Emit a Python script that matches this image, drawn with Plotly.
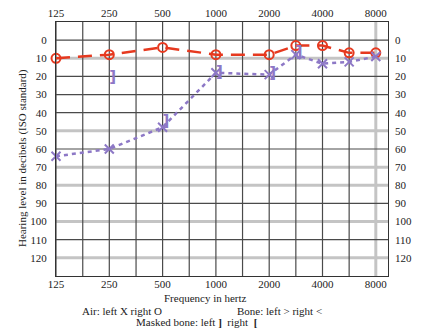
import plotly.graph_objects as go
import math

# ---- data ----
octave_freqs = [125, 250, 500, 1000, 2000, 4000, 8000]
freq_labels = ["125", "250", "500", "1000", "2000", "4000", "8000"]
grid_freqs = [125, 177, 250, 354, 500, 707, 1000, 1414, 2000, 2828, 4000, 5657]
gray_freqs = [8000]
level_ticks = [0, 10, 20, 30, 40, 50, 60, 70, 80, 90, 100, 110, 120]
black_levels = [0, 20, 30, 40, 60, 90, 110]
gray_levels = [10, 50, 70, 80, 100, 120]

test_freqs = [125, 250, 500, 1000, 2000, 2828, 4000, 5657, 8000]
right_air = [10, 8, 4, 8, 8, 3, 3, 7, 7]
left_air = [64, 60, 48, 18, 19, 8, 13, 12, 9]
bone_freqs = [250, 500, 1000, 2000, 2828]
left_masked_bone = [21, 45, 18, 19, 7]

RED = "#e6391f"
PURPLE = "#8d78c6"
FONT = "Liberation Serif"
TXT = "#222222"

x_range = [math.log10(125), 3.972]
y_range = [130, -10]

fig = go.Figure()

fig.add_trace(go.Scatter(
    x=test_freqs, y=right_air, mode="lines+markers", cliponaxis=False,
    line=dict(color=RED, width=2.5, dash="14px,8px"),
    marker=dict(symbol="circle-open", size=9, color=RED, line=dict(width=2, color=RED)),
    showlegend=False, hoverinfo="skip"))

fig.add_trace(go.Scatter(
    x=test_freqs, y=left_air, mode="lines+markers", cliponaxis=False,
    line=dict(color=PURPLE, width=2.5, dash="4px,4px"),
    marker=dict(symbol="x-thin-open", size=9, color=PURPLE, line=dict(width=2, color=PURPLE)),
    showlegend=False, hoverinfo="skip"))

fig.add_trace(go.Scatter(
    x=bone_freqs, y=left_masked_bone, mode="text", text=["<b>]</b>"] * len(bone_freqs),
    textposition="middle right",
    textfont=dict(family="DejaVu Sans", size=15, color=PURPLE),
    showlegend=False, hoverinfo="skip"))

# invisible trace for the secondary (top / right) axes
fig.add_trace(go.Scatter(x=[1000], y=[50], xaxis="x2", yaxis="y2", mode="markers",
                         marker=dict(opacity=0), showlegend=False, hoverinfo="skip"))

shapes = []
for lv in gray_levels:
    shapes.append(dict(type="line", xref="paper", yref="y", x0=0, x1=1, y0=lv, y1=lv,
                       line=dict(color="#c4c4c4", width=3), layer="below"))
for f in gray_freqs:
    shapes.append(dict(type="line", xref="x", yref="paper", x0=f, x1=f, y0=0, y1=1,
                       line=dict(color="#c4c4c4", width=3), layer="below"))
for lv in black_levels:
    shapes.append(dict(type="line", xref="paper", yref="y", x0=0, x1=1, y0=lv, y1=lv,
                       line=dict(color="#4a4a4a", width=1.2), layer="below"))
for f in grid_freqs:
    shapes.append(dict(type="line", xref="x", yref="paper", x0=f, x1=f, y0=0, y1=1,
                       line=dict(color="#4a4a4a", width=1.2), layer="below"))

W, H = 422, 333
L, R, T, B = 56, 34, 22, 57
pw, ph = W - L - R, H - T - B

def px(x):
    return (x - L) / pw

def py(y):
    return (H - B - y) / ph

tickfont = dict(family=FONT, size=11, color=TXT)

annotations = [
    dict(text="Frequency in hertz", x=px(205), y=py(298)),
    dict(text="Air: left X right O", x=px(122), y=py(311)),
    dict(text="Bone: left &gt; right &lt;", x=px(279), y=py(311)),
    dict(text="Masked bone: left <b>]</b>  right  <b>[</b>", x=px(197), y=py(322)),
    dict(text="Hearing level in decibels (ISO standard)", x=px(23), y=py(158), textangle=-90),
]
for a in annotations:
    a.update(xref="paper", yref="paper", showarrow=False, xanchor="center", yanchor="middle",
             font=dict(family=FONT, size=11, color=TXT))

fig.update_layout(
    width=W, height=H,
    margin=dict(l=L, r=R, t=T, b=B, autoexpand=False),
    paper_bgcolor="white", plot_bgcolor="white",
    shapes=shapes, annotations=annotations,
    xaxis=dict(type="log", range=x_range, tickvals=octave_freqs, ticktext=freq_labels,
               showgrid=False, zeroline=False, showline=True, mirror=True,
               linecolor="#333333", linewidth=1.2, ticks="", tickfont=tickfont,
               ticklabelstandoff=-2, automargin=False),
    xaxis2=dict(type="log", range=x_range, overlaying="x", side="top", anchor="y",
                tickvals=octave_freqs, ticktext=freq_labels, showgrid=False,
                zeroline=False, showline=False, ticks="", tickfont=tickfont,
                ticklabelstandoff=2, automargin=False),
    yaxis=dict(range=y_range, tickvals=level_ticks, showgrid=False, zeroline=False,
               showline=True, mirror=True, linecolor="#333333", linewidth=1.2,
               ticks="", tickfont=tickfont, ticklabelstandoff=6, automargin=False),
    yaxis2=dict(range=y_range, overlaying="y", side="right", anchor="x",
                tickvals=level_ticks, showgrid=False, zeroline=False, showline=False,
                ticks="", tickfont=tickfont, ticklabelstandoff=6, automargin=False),
    showlegend=False,
)

fig.write_html("out.html", config={"displayModeBar": False},
               post_script="document.body.style.margin='0';document.body.style.padding='0';")
